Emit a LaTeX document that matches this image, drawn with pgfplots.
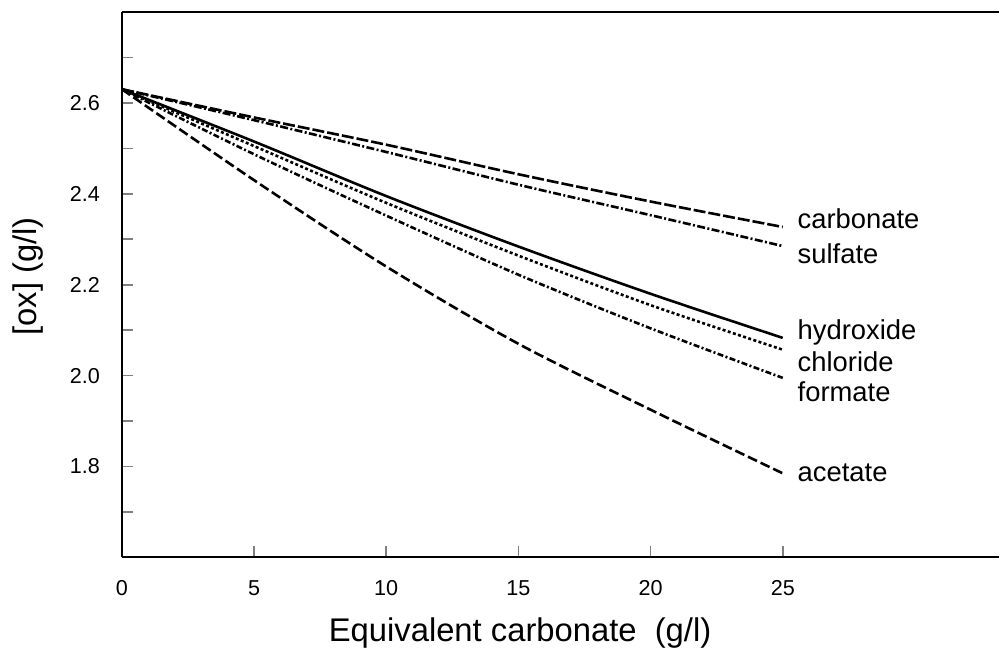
\documentclass[border=0pt]{standalone}
\usepackage{fontspec}
\setmainfont{Liberation Sans}
\usepackage{pgfplots}
\pgfplotsset{compat=1.18}
\begin{document}
\begin{tikzpicture}
\begin{axis}[
  at={(0,0)}, anchor=south west,
  scale only axis,
  width=439pt, height=273pt,
  xmin=0, xmax=33.18, ymin=1.6, ymax=2.8,
  axis x line*=box, axis y line*=left,
  axis line style={line width=1pt},
  xtick pos=bottom, ytick pos=left,
  tick align=inside,
  xtick={0,5,...,25},
  ytick={1.8,2.0,2.2,2.4,2.6},
  minor ytick={1.7,1.9,2.1,2.3,2.5,2.7},
  yticklabels={1.8,2.0,2.2,2.4,2.6},
  major tick length=5.5pt, minor tick length=5.5pt,
  x tick style={line width=0.8pt},
  y tick style={line width=0.8pt},
  /pgf/number format/assume math mode=true,
  tick label style={font=\fontsize{10.8}{12}\selectfont},
  yticklabel style={xshift=-7.5pt},
  xticklabel style={yshift=-8pt},
  xlabel={Equivalent carbonate\ \ (g/l)},
  ylabel={[ox] (g/l)},
  label style={font=\fontsize{16.4}{19}\selectfont},
  xlabel style={at={(axis description cs:0.454,0)}, anchor=base, yshift=-42pt},
  ylabel style={at={(axis description cs:0,0.515)}, anchor=center, yshift=47pt},
  clip=false,
  every axis plot/.append style={line width=1.3pt, black},
]
% carbonate
\addplot[smooth, dash pattern=on 6pt off 1.5pt] coordinates {(0,2.63) (5,2.568) (10,2.508) (15,2.443) (20,2.383) (25,2.327)};
% sulfate
\addplot[smooth, dash pattern=on 4pt off 1.2pt on 1pt off 1.2pt] coordinates {(0,2.63) (5,2.562) (10,2.492) (15,2.420) (20,2.353) (25,2.285)};
% hydroxide
\addplot[smooth, solid] coordinates {(0,2.63) (5,2.515) (10,2.395) (15,2.284) (20,2.180) (25,2.083)};
% chloride
\addplot[smooth, dash pattern=on 1.5pt off 1.2pt] coordinates {(0,2.63) (5,2.505) (10,2.380) (15,2.264) (20,2.155) (25,2.057)};
% formate
\addplot[smooth, dash pattern=on 3pt off 1.2pt on 1pt off 1.2pt] coordinates {(0,2.63) (5,2.487) (10,2.352) (15,2.222) (20,2.104) (25,1.995)};
% acetate
\addplot[smooth, dash pattern=on 5pt off 2pt] coordinates {(0,2.63) (5,2.430) (10,2.240) (15,2.070) (20,1.925) (25,1.785)};
\begin{scope}[every node/.style={anchor=west, inner sep=0pt, font=\fontsize{13.7}{16}\selectfont}]
\node at (axis cs:25.55,2.345) {carbonate};
\node at (axis cs:25.55,2.269) {sulfate};
\node at (axis cs:25.55,2.095) {hydroxide};
\node at (axis cs:25.55,2.030) {chloride};
\node at (axis cs:25.55,1.964) {formate};
\node at (axis cs:25.55,1.786) {acetate};
\end{scope}
\end{axis}
\path[use as bounding box] (-61pt,-44pt) rectangle (439pt,279pt);
\end{tikzpicture}
\end{document}
